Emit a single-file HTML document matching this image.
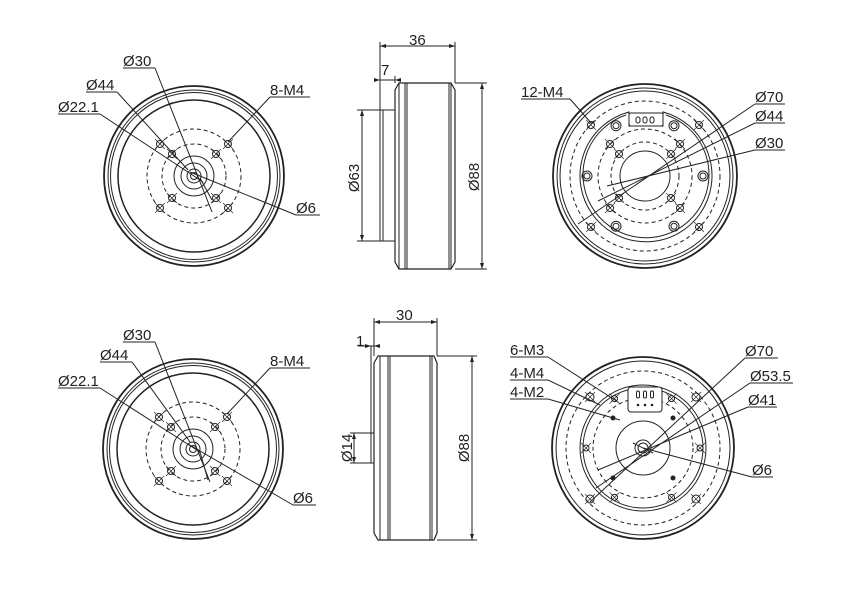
<!DOCTYPE html>
<html><head><meta charset="utf-8">
<style>
html,body{margin:0;padding:0;background:#fff;}
svg{display:block;}
text{font-family:"Liberation Sans",Arial,sans-serif;font-size:15px;fill:#222;}
</style></head>
<body>
<svg id="s" width="850" height="605" viewBox="0 0 850 605" xmlns="http://www.w3.org/2000/svg">
<rect width="850" height="605" fill="#fff"/>
<g id="g" fill="none" stroke="#222" stroke-width="1"></g>
<g id="t">
<!-- top-left labels -->
<text x="123" y="66">Ø30</text>
<text x="86" y="90">Ø44</text>
<text x="58" y="112">Ø22.1</text>
<text x="270" y="95">8-M4</text>
<text x="296" y="213">Ø6</text>
<!-- bottom-left labels -->
<text x="123" y="340">Ø30</text>
<text x="100" y="360">Ø44</text>
<text x="58" y="386">Ø22.1</text>
<text x="270" y="366">8-M4</text>
<text x="293" y="503">Ø6</text>
<!-- top middle -->
<text x="409" y="45">36</text>
<text x="381" y="75">7</text>
<text transform="translate(359,178) rotate(-90)" text-anchor="middle">Ø63</text>
<text transform="translate(479,177) rotate(-90)" text-anchor="middle">Ø88</text>
<!-- bottom middle -->
<text x="396" y="320">30</text>
<text x="356" y="346">1</text>
<text transform="translate(352,448) rotate(-90)" text-anchor="middle">Ø14</text>
<text transform="translate(469,448) rotate(-90)" text-anchor="middle">Ø88</text>
<!-- top right -->
<text x="521" y="97">12-M4</text>
<text x="755" y="102">Ø70</text>
<text x="755" y="121">Ø44</text>
<text x="755" y="148">Ø30</text>
<!-- bottom right -->
<text x="510" y="355">6-M3</text>
<text x="510" y="378">4-M4</text>
<text x="510" y="397">4-M2</text>
<text x="745" y="356">Ø70</text>
<text x="750" y="381">Ø53.5</text>
<text x="748" y="405">Ø41</text>
<text x="752" y="475">Ø6</text>
</g>
</svg>
<script>
var g=document.getElementById('g');var NS='http://www.w3.org/2000/svg';
function el(n,a){var e=document.createElementNS(NS,n);for(var k in a)e.setAttribute(k,a[k]);g.appendChild(e);return e;}
function C(x,y,r,o){var a={cx:x,cy:y,r:r};if(o)for(var k in o)a[k]=o[k];return el('circle',a);}
function D(x,y,r){return C(x,y,r,{'stroke-dasharray':'4,3'});}
function L(x1,y1,x2,y2,o){var a={x1:x1,y1:y1,x2:x2,y2:y2};if(o)for(var k in o)a[k]=o[k];return el('line',a);}
function H(x,y,r){C(x,y,r||3.5);L(x-5,y-5,x+5,y+5,{'stroke-width':0.6});L(x-5,y+5,x+5,y-5,{'stroke-width':0.6});}
function arrow(x,y,dir){var p;var s=6,w=2;
 if(dir=='l')p=[x,y,x+s,y-w,x+s,y+w];if(dir=='r')p=[x,y,x-s,y-w,x-s,y+w];
 if(dir=='u')p=[x,y,x-w,y+s,x+w,y+s];if(dir=='d')p=[x,y,x-w,y-s,x+w,y-s];
 el('polygon',{points:p.join(','),fill:'#222',stroke:'none'});}
// front views (left)
function front(cx,cy,labels){
 C(cx,cy,90,{'stroke-width':1.8});C(cx,cy,86);C(cx,cy,83.5);C(cx,cy,76,{'stroke-width':1.5});
 D(cx,cy,47);D(cx,cy,32);C(cx,cy,20);C(cx,cy,13);C(cx,cy,7);C(cx,cy,3.5);
 [[-1,-1],[1,-1],[-1,1],[1,1]].forEach(function(d){H(cx+d[0]*34,cy+d[1]*32);H(cx+d[0]*22,cy+d[1]*22);});
}
front(194,176);front(193,449);
// leaders top-left
L(123,68,155,68);L(155,68,212,212);
L(86,92,117,92);L(117,92,188,170);
L(58,114,100,114);L(100,114,203,182);
L(270,97,310,97);L(270,97,228,142);
L(296,215,320,215);L(296,215,190,172);L(200,178,212,200);
// bottom-left
L(123,342,155,342);L(155,342,210,482);
L(100,362,132,362);L(132,362,190,442);
L(58,388,100,388);L(100,388,200,452);
L(270,368,310,368);L(270,368,227,414);
L(293,505,316,505);L(293,505,188,444);L(200,452,208,480);
// top middle side view
el('rect',{x:380,y:110,width:15,height:131});
L(383,110,383,241);
el('path',{d:'M395,90 L399,83 L451,83 L455,90 L455,262 L451,269 L399,269 L395,262 Z','stroke-width':1.2});
L(395,90,395,262);L(399,83,399,269);L(405,83,405,269);L(407,83,407,269);L(449,83,449,269);L(451,83,451,269);
L(380,42,380,110);L(455,42,455,83);L(380,46,455,46);arrow(380,46,'l');arrow(455,46,'r');
L(380,80,395,80);L(395,76,395,83);arrow(380,80,'r');arrow(395,80,'l');
L(357,110,380,110);L(357,241,380,241);L(362,110,362,241);arrow(362,110,'u');arrow(362,241,'d');
L(455,83,487,83);L(455,269,487,269);L(482,83,482,269);arrow(482,83,'u');arrow(482,269,'d');
// bottom middle side view
el('rect',{x:371,y:433,width:3,height:30});
el('path',{d:'M374,363 L378,356 L434,356 L437,363 L437,533 L434,540 L378,540 L374,533 Z','stroke-width':1.2});
L(374,363,374,533);L(380,356,380,540);L(388,356,388,540);L(390,356,390,540);L(430,356,430,540);L(432,356,432,540);
L(374,318,374,356);L(437,318,437,356);L(374,322,437,322);arrow(374,322,'l');arrow(437,322,'r');
L(358,346,380,346);arrow(371,346,'r');arrow(374,346,'l');L(371,346,371,433);
L(350,433,371,433);L(350,463,371,463);L(354,433,354,463);arrow(354,433,'u');arrow(354,463,'d');
L(437,356,477,356);L(437,540,477,540);L(472,356,472,540);arrow(472,356,'u');arrow(472,540,'d');
// top right rear view
(function(cx,cy){
 C(cx,cy,92,{'stroke-width':1.8});C(cx,cy,88);C(cx,cy,85);
 D(cx,cy,75);
 // inner circle with notch
 el('path',{d:'M629,112 A66,66 0 1 0 663,112'});
 el('path',{d:'M626,115 A63,63 0 1 0 666,115'});
 el('path',{d:'M626,113 L629,112 L629,126 L663,126 L663,112 L666,113'});
 el('rect',{x:629,y:113,width:34,height:13,rx:2});
 [638,645,652].forEach(function(x){el('rect',{x:x-2,y:117,width:4,height:6,rx:2});});
 D(cx,cy,47);D(cx,cy,34);C(cx,cy,25);
 for(var i=0;i<6;i++){var a=i*Math.PI/3;var x=cx+58*Math.cos(a),y=cy+58*Math.sin(a);C(x,y,5);C(x,y,3);}
 [[-1,-1],[1,-1],[-1,1],[1,1]].forEach(function(d){H(cx+d[0]*54,cy+d[1]*51);H(cx+d[0]*35,cy+d[1]*32);H(cx+d[0]*26,cy+d[1]*22);});
})(645,176);
L(521,99,570,99);L(570,99,592,124);
L(755,104,785,104);L(755,104,578,224);
L(755,123,785,123);L(755,123,598,201);
L(755,150,785,150);L(755,150,607,186);
// bottom right rear view
(function(cx,cy){
 C(cx,cy,91,{'stroke-width':1.8});C(cx,cy,87);
 D(cx,cy,77);C(cx,cy,63);C(cx,cy,60);D(cx,cy,50);
 C(cx,cy,27);C(cx,cy,8);C(cx,cy,5);
 el('rect',{x:628,y:387,width:34,height:25,rx:3,fill:'#fff'});
 [638,645,652].forEach(function(x){el('rect',{x:x-1.5,y:391,width:3,height:7,rx:1.5});C(x,405,0.8,{fill:'#222'});});
 [[-1,-1],[1,-1],[-1,1],[1,1]].forEach(function(d){H(cx+d[0]*53,cy+d[1]*51,4);C(cx+d[0]*30,cy+d[1]*30,2,{fill:'#222'});});
 for(var i=0;i<6;i++){var a=i*Math.PI/3;H(cx+57*Math.cos(a),cy+57*Math.sin(a),3);}
})(643,448);
L(510,357,548,357);L(548,357,618,402);
L(510,380,548,380);L(548,380,600,405);
L(510,399,548,399);L(548,399,620,420);
L(745,358,778,358);L(745,358,590,502);
L(750,383,793,383);L(750,383,596,488);
L(748,407,777,407);L(748,407,598,470);
L(752,477,773,477);L(752,477,643,448);L(633,443,653,453);
</script>
</body></html>
